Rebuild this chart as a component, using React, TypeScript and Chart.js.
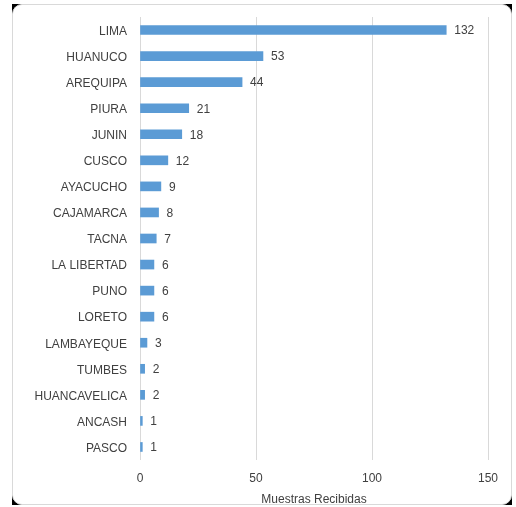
import React, { useEffect, useRef } from "react";
import { Chart, registerables } from "chart.js";

Chart.register(...registerables);

const categories = [
  "LIMA", "HUANUCO", "AREQUIPA", "PIURA", "JUNIN", "CUSCO", "AYACUCHO", "CAJAMARCA",
  "TACNA", "LA LIBERTAD", "PUNO", "LORETO", "LAMBAYEQUE", "TUMBES", "HUANCAVELICA",
  "ANCASH", "PASCO",
];
const values = [132, 53, 44, 21, 18, 12, 9, 8, 7, 6, 6, 6, 3, 2, 2, 1, 1];
const xTicks = [0, 50, 100, 150];
const xTitle = "Muestras Recibidas";

const FONT = "'Liberation Sans', Arial, sans-serif";

const valueLabels = {
  id: "valueLabels",
  afterDatasetsDraw(chart: any) {
    const ctx = chart.ctx;
    const meta = chart.getDatasetMeta(0);
    ctx.save();
    ctx.font = `12px ${FONT}`;
    ctx.fillStyle = "#404040";
    ctx.textAlign = "left";
    ctx.textBaseline = "middle";
    meta.data.forEach((bar: any, i: number) => {
      ctx.fillText(String(values[i]), bar.x + 8, bar.y + 1);
    });
    ctx.restore();
  },
};

export default function App() {
  const ref = useRef<HTMLCanvasElement>(null);
  useEffect(() => {
    if (!ref.current) return;
    const chart = new Chart(ref.current, {
      type: "bar",
      data: {
        labels: categories,
        datasets: [
          {
            data: values,
            backgroundColor: "#5B9BD5",
            barThickness: 9,
          },
        ],
      },
      options: {
        indexAxis: "y",
        animation: false,
        responsive: false,
        maintainAspectRatio: false,
        layout: { padding: { top: 13, right: 24, bottom: 0, left: 0 } },
        plugins: { legend: { display: false }, tooltip: { enabled: false } },
        scales: {
          x: {
            min: 0,
            max: 150,
            afterBuildTicks(axis: any) {
              axis.ticks = xTicks.map((v) => ({ value: v }));
            },
            afterFit(axis: any) {
              axis.height = 45;
              axis.paddingLeft = 0;
              axis.paddingRight = 0;
            },
            grid: { color: "#d9d9d9", drawTicks: false },
            border: { display: false },
            ticks: {
              padding: 11,
              color: "#404040",
              font: { family: FONT, size: 12 },
            },
            title: {
              display: true,
              text: xTitle,
              color: "#404040",
              font: { family: FONT, size: 12 },
              padding: { top: 0, bottom: -2 },
            },
          },
          y: {
            afterFit(axis: any) {
              axis.width = 128;
              axis.paddingTop = 0;
              axis.paddingBottom = 0;
            },
            grid: { display: false, drawTicks: false },
            border: { display: false },
            ticks: {
              padding: 13,
              labelOffset: 1.5,
              color: "#404040",
              font: { family: FONT, size: 12 },
              autoSkip: false,
            },
          },
        },
      },
      plugins: [valueLabels],
    });
    return () => chart.destroy();
  }, []);

  return (
    <div
      style={{
        position: "fixed",
        left: 0,
        top: 0,
        width: 516,
        height: 507,
        background: "#ffffff",
      }}
    >
      <div
        style={{
          position: "absolute",
          left: 12,
          top: 4,
          width: 500,
          height: 501,
          background: "#000000",
        }}
      >
        <div
          style={{
            position: "absolute",
            left: 0,
            top: 0,
            width: 500,
            height: 501,
            boxSizing: "border-box",
            background: "#ffffff",
            border: "1px solid #d9d9d9",
            borderRadius: 10,
          }}
        />
        <canvas
          ref={ref}
          width={500}
          height={501}
          style={{ position: "absolute", left: 0, top: 0, width: 500, height: 501 }}
        />
      </div>
    </div>
  );
}
